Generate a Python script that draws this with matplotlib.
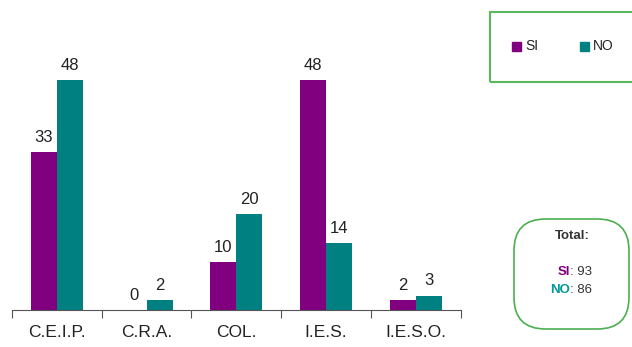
import numpy as np
import matplotlib.pyplot as plt
from matplotlib.patches import FancyBboxPatch, Rectangle

plt.rcParams['font.family'] = ['Liberation Sans', 'DejaVu Sans']

centros = ['C.E.I.P.', 'C.R.A.', 'COL.', 'I.E.S.', 'I.E.S.O.']
si = [33, 0, 10, 48, 2]
no = [48, 2, 20, 14, 3]

morado = '#800080'
verde = '#008080'

fig = plt.figure(figsize=(6.32, 3.47), dpi=100)
ax = fig.add_axes([0.019, 0.107, 0.71, 0.827])

x = np.arange(len(centros))
w = 0.29
b1 = ax.bar(x - w / 2, si, w, color=morado)
b2 = ax.bar(x + w / 2, no, w, color=verde)

for barras, vals in ((b1, si), (b2, no)):
    for b, v in zip(barras, vals):
        ax.text(b.get_x() + b.get_width() / 2, v + 1.5, str(v),
                ha='center', va='bottom', fontsize=12, color='#222222')

ax.set_xlim(-0.5, len(centros) - 0.5)
ax.set_ylim(0, 60)
for s in ('top', 'right', 'left'):
    ax.spines[s].set_visible(False)
ax.spines['bottom'].set_color('#555555')
ax.set_yticks([])
ax.set_xticks(np.arange(len(centros) + 1) - 0.5, minor=False)
ax.set_xticklabels([])
ax.tick_params(axis='x', which='major', length=6, color='#555555', direction='out')
ax.set_xticks(x, minor=True)
ax.set_xticklabels(centros, minor=True, fontsize=12.5, color='#222222')
ax.tick_params(axis='x', which='minor', length=0, pad=11)

# cuadro de leyenda
fig.patches.append(Rectangle((490 / 632, 1 - 82 / 347), 150 / 632, 70 / 347,
                             transform=fig.transFigure, fill=False,
                             edgecolor='#5cb85c', linewidth=1.5))
fig.patches.append(Rectangle((512 / 632, 1 - 51 / 347), 9 / 632, 9 / 347,
                             transform=fig.transFigure, color=morado))
fig.text(525 / 632, 1 - 46 / 347, 'SI', fontsize=10, va='center', color='#222222')
fig.patches.append(Rectangle((580 / 632, 1 - 51 / 347), 9 / 632, 9 / 347,
                             transform=fig.transFigure, color=verde))
fig.text(593 / 632, 1 - 46 / 347, 'NO', fontsize=10, va='center', color='#222222')

# cuadro de totales
fig.patches.append(FancyBboxPatch((514 / 632, 1 - 329 / 347), 115 / 632, 110 / 347,
                                  boxstyle='round,pad=0,rounding_size=0.05',
                                  transform=fig.transFigure, fill=False,
                                  edgecolor='#4caf50', linewidth=1.2,
                                  mutation_aspect=632 / 347))
cx = 572 / 632
fig.text(cx, 1 - 236 / 347, 'Total:', fontsize=9.5, fontweight='bold',
         ha='center', va='center', color='#333333')
fig.text(cx - 2 / 632, 1 - 272 / 347, 'SI', fontsize=9.5, fontweight='bold',
         ha='right', va='center', color=morado)
fig.text(cx - 2 / 632, 1 - 272 / 347, ': 93', fontsize=9.5,
         ha='left', va='center', color='#333333')
fig.text(cx - 2 / 632, 1 - 290 / 347, 'NO', fontsize=9.5, fontweight='bold',
         ha='right', va='center', color='#009999')
fig.text(cx - 2 / 632, 1 - 290 / 347, ': 86', fontsize=9.5,
         ha='left', va='center', color='#333333')

fig.savefig('out.png', dpi=100)
